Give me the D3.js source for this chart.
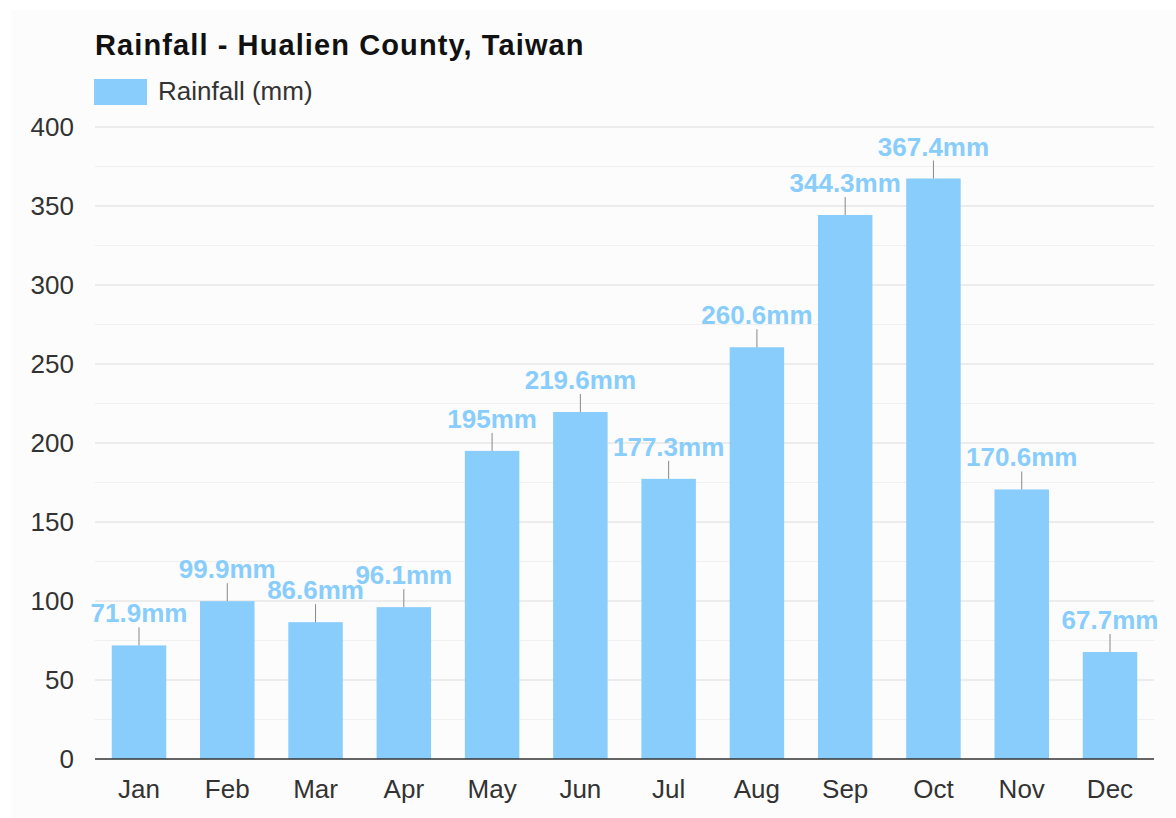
<!DOCTYPE html>
<html>
<head>
<meta charset="utf-8">
<script src="https://cdn.jsdelivr.net/npm/d3@7"></script>
<style>
  html, body { margin: 0; padding: 0; background: #fff; }
  svg { display: block; font-family: "Liberation Sans", Arial, sans-serif; }
</style>
</head>
<body>
<svg id="chart" width="1176" height="818"></svg>
<script>
const months = ["Jan", "Feb", "Mar", "Apr", "May", "Jun", "Jul", "Aug", "Sep", "Oct", "Nov", "Dec"]
const rainfall = [71.9, 99.9, 86.6, 96.1, 195, 219.6, 177.3, 260.6, 344.3, 367.4, 170.6, 67.7]
const yTicks = [0, 50, 100, 150, 200, 250, 300, 350, 400]

const width = 1176
const height = 818
const margin = { top: 127, right: 22, bottom: 59, left: 95 }
const barColour = "#88cdfb"

const svg = d3.select("#chart")

// off-white panel, white strip at top and left
svg.append("rect")
    .attr("x", 11).attr("y", 10)
    .attr("width", width - 11).attr("height", height - 10)
    .attr("fill", "#fbfcfb")

const x = d3.scaleBand()
    .domain(months)
    .range([margin.left, width - margin.right])
    .paddingInner(0.383)
    .paddingOuter(0.19)

const y = d3.scaleLinear()
    .domain([0, 400])
    .range([height - margin.bottom, margin.top])

// minor grid lines every 25
const minor = d3.range(25, 400, 50)
svg.append("g")
    .selectAll("line")
    .data(minor)
    .join("line")
    .attr("x1", margin.left).attr("x2", width - margin.right)
    .attr("y1", d => y(d)).attr("y2", d => y(d))
    .attr("stroke", "#f0f0f0")

// major grid lines
svg.append("g")
    .selectAll("line")
    .data(yTicks.slice(1))
    .join("line")
    .attr("x1", margin.left).attr("x2", width - margin.right)
    .attr("y1", d => y(d)).attr("y2", d => y(d))
    .attr("stroke", "#dcdcdc")

// y axis labels
svg.append("g")
    .attr("transform", "translate(74,0)")
    .call(d3.axisLeft(y).tickValues(yTicks).tickSize(0).tickPadding(0))
    .call(g => g.select(".domain").remove())
    .selectAll("text")
    .attr("font-size", 26)
    .attr("fill", "#333")
    .attr("font-family", "Liberation Sans, Arial, sans-serif")

// bars
svg.append("g")
    .selectAll("rect")
    .data(rainfall)
    .join("rect")
    .attr("x", (d, i) => x(months[i]))
    .attr("y", d => y(d))
    .attr("width", x.bandwidth())
    .attr("height", d => y(0) - y(d))
    .attr("fill", barColour)

// leader lines
svg.append("g")
    .selectAll("line")
    .data(rainfall)
    .join("line")
    .attr("x1", (d, i) => x(months[i]) + x.bandwidth() / 2)
    .attr("x2", (d, i) => x(months[i]) + x.bandwidth() / 2)
    .attr("y1", d => y(d))
    .attr("y2", d => y(d) - 18)
    .attr("stroke", "#888")
    .attr("stroke-width", 1)

// value labels
svg.append("g")
    .selectAll("text")
    .data(rainfall)
    .join("text")
    .attr("x", (d, i) => x(months[i]) + x.bandwidth() / 2)
    .attr("y", d => y(d) - 23)
    .attr("text-anchor", "middle")
    .attr("font-size", 26)
    .attr("font-weight", "bold")
    .attr("fill", barColour)
    .text(d => d + "mm")

// x axis
svg.append("g")
    .attr("transform", "translate(0," + y(0) + ")")
    .call(d3.axisBottom(x).tickSize(0).tickPadding(21))
    .call(g => g.select(".domain").attr("stroke", "#333").attr("stroke-width", 1.5)
        .attr("d", "M" + margin.left + ",0H" + (width - margin.right)))
    .selectAll("text")
    .attr("font-size", 26)
    .attr("fill", "#333")
    .attr("font-family", "Liberation Sans, Arial, sans-serif")

// title
svg.append("text")
    .attr("x", 95).attr("y", 55)
    .attr("font-size", 29)
    .attr("font-weight", "bold")
    .attr("letter-spacing", 1.1)
    .attr("fill", "#111")
    .text("Rainfall - Hualien County, Taiwan")

// legend
svg.append("rect")
    .attr("x", 94).attr("y", 79)
    .attr("width", 53).attr("height", 26)
    .attr("fill", barColour)
svg.append("text")
    .attr("x", 158).attr("y", 100)
    .attr("font-size", 26)
    .attr("fill", "#333")
    .text("Rainfall (mm)")
</script>
</body>
</html>
